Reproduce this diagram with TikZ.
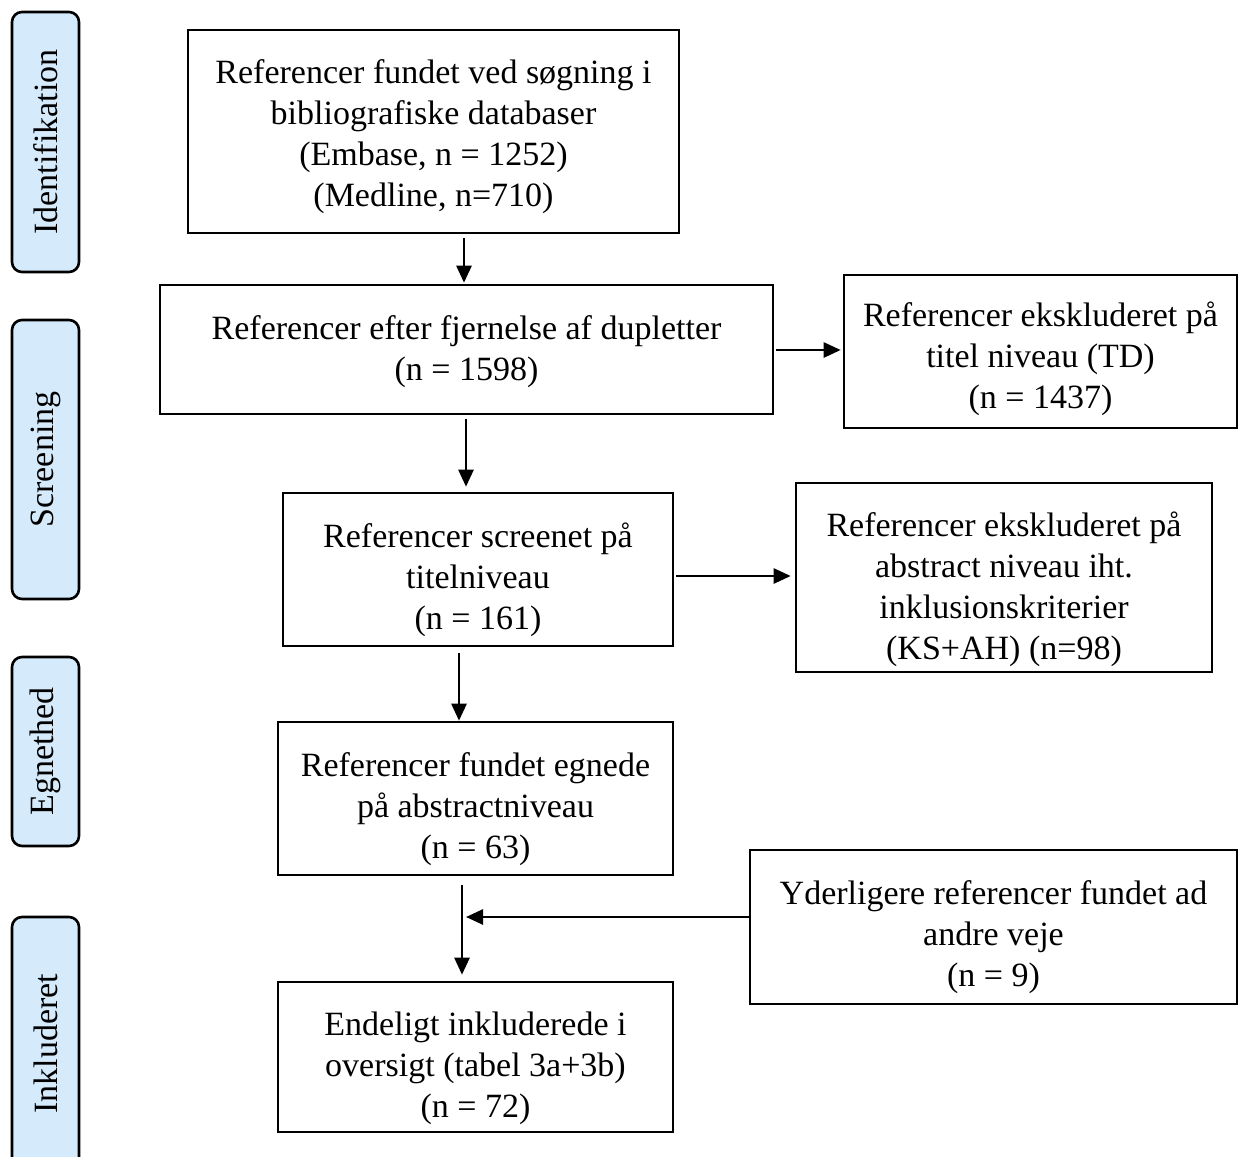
\documentclass[tikz,border=0pt]{standalone}
\usepackage{fontspec}
\setmainfont{Liberation Serif}
\usetikzlibrary{arrows.meta,calc}
\definecolor{sidefill}{HTML}{D5EBFC}
\begin{document}
\begin{tikzpicture}[x=0.5pt,y=-0.5pt,
  box/.style={draw,line width=1.3pt,inner sep=0pt},
  boxtext/.style={align=center,inner sep=0pt,
    font=\fontsize{17}{20.5}\selectfont},
  side/.style={draw,line width=1.3pt,fill=sidefill,rounded corners=5pt,
    rotate=90,minimum height=33.5pt,inner sep=0pt,
    font=\fontsize{17}{20.5}\selectfont},
  arr/.style={line width=1.3pt,-{Triangle[length=8.5pt,width=7.5pt]}}]
\useasboundingbox (0,0) rectangle (1239,1157);
\clip (0,0) rectangle (1239,1157);

% side labels
\node[side,minimum width=130pt] (s1) at (45.5,142) {Identifikation};
\node[side,minimum width=139.5pt] (s2) at (45.5,459.5) {Screening};
\node[side,minimum width=94.5pt] (s3) at (45.5,751.5) {Egnethed};
\node[side,minimum width=126.5pt] (s4) at (45.5,1043.5) {Inkluderet};

% boxes
\node[box,minimum width=245.5pt,minimum height=101.5pt] (b1) at (433.5,131.5) {};
\node[box,minimum width=306.5pt,minimum height=64.5pt] (b2) at (466.5,349.5) {};
\node[box,minimum width=196.5pt,minimum height=76.5pt] (b3) at (1040.5,351.5) {};
\node[box,minimum width=195pt,minimum height=76.5pt] (b4) at (478,569.5) {};
\node[box,minimum width=208pt,minimum height=94.5pt] (b5) at (1004,577.5) {};
\node[box,minimum width=197.5pt,minimum height=76.5pt] (b6) at (475.5,798.5) {};
\node[box,minimum width=243.5pt,minimum height=77pt] (b7) at (993.5,927) {};
\node[box,minimum width=197.5pt,minimum height=75pt] (b8) at (475.5,1057) {};

% box texts
\node[boxtext] (t1) at ($(b1.center)+(0,5)$)
  {Referencer fundet ved søgning i\\bibliografiske databaser\\(Embase, n = 1252)\\(Medline, n=710)};
\node[boxtext] (t2) at ($(b2.center)+(0,2)$)
  {Referencer efter fjernelse af dupletter\\(n = 1598)};
\node[boxtext] (t3) at ($(b3.center)+(0,7)$)
  {Referencer ekskluderet på\\titel niveau (TD)\\(n = 1437)};
\node[boxtext] (t4) at ($(b4.center)+(0,10)$)
  {Referencer screenet på\\titelniveau\\(n = 161)};
\node[boxtext] (t5) at ($(b5.center)+(0,12)$)
  {Referencer ekskluderet på\\abstract niveau iht.\\inklusionskriterier\\(KS+AH) (n=98)};
\node[boxtext] (t6) at ($(b6.center)+(0,11)$)
  {Referencer fundet egnede\\på abstractniveau\\(n = 63)};
\node[boxtext] (t7) at ($(b7.center)+(0,10)$)
  {Yderligere referencer fundet ad\\andre veje\\(n = 9)};
\node[boxtext] (t8) at ($(b8.center)+(0,11)$)
  {Endeligt inkluderede i\\oversigt (tabel 3a+3b)\\(n = 72)};

% connector coordinates
\coordinate (x1) at (464,0);
\coordinate (x2) at (466,0);
\coordinate (x3) at (459,0);
\coordinate (x4) at (462,0);
\coordinate (y1) at (0,350);
\coordinate (y2) at (0,576);
\coordinate (m) at (466,917);

\draw[arr,shorten <=2pt,shorten >=0.5pt] (b1.south -| x1) -- (b2.north -| x1);
\draw[arr,shorten <=2pt,shorten >=2.5pt] (b2.south -| x2) -- (b4.north -| x2);
\draw[arr,shorten <=3pt] (b4.south -| x3) -- (b6.north -| x3);
\draw[arr,shorten <=4.5pt,shorten >=3pt] (b6.south -| x4) -- (b8.north -| x4);
\draw[arr,shorten <=1pt,shorten >=1pt] (b2.east |- y1) -- (b3.west |- y1);
\draw[arr,shorten <=1pt,shorten >=2pt] (b4.east |- y2) -- (b5.west |- y2);
\draw[arr] (b7.west |- m) -- (m);
\end{tikzpicture}
\end{document}
